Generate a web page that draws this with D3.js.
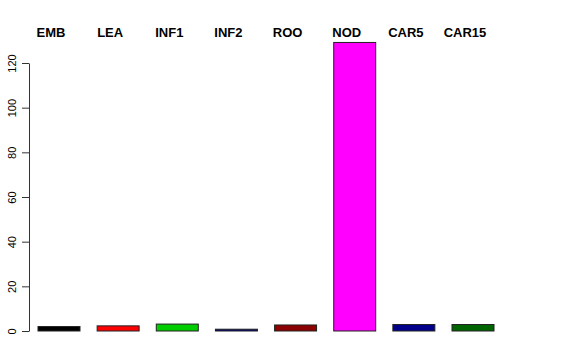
<!DOCTYPE html>
<html>
<head>
<meta charset="utf-8">
<script src="https://d3js.org/d3.v7.min.js"></script>
<style>
  body { margin: 0; background: #fff; }
  text { font-family: "Liberation Sans", Arial, sans-serif; }
</style>
</head>
<body>
<svg id="chart" width="576" height="360"></svg>
<script>
// data
var categories = ["EMB", "LEA", "INF1", "INF2", "ROO", "NOD", "CAR5", "CAR15"];
var values = [2.0, 2.3, 3.1, 0.8, 2.7, 129.2, 2.9, 2.9];
var colors = ["#000000", "#ff0000", "#00cd00", "#000080", "#8b0000", "#ff00ff", "#00008b", "#006400"];
var yTicks = [0, 20, 40, 60, 80, 100, 120];

var svg = d3.select("#chart");

// scales
var x = d3.scaleBand()
    .domain(categories)
    .range([38, 494])
    .paddingInner(0.29)
    .paddingOuter(0);

var y = d3.scaleLinear()
    .domain([0, 120])
    .range([331, 63]);

// bars
svg.append("g")
  .selectAll("rect")
  .data(values)
  .enter().append("rect")
    .attr("x", function(d, i) { return x(categories[i]); })
    .attr("y", function(d) { return y(d); })
    .attr("width", x.bandwidth())
    .attr("height", function(d) { return y(0) - y(d); })
    .attr("fill", function(d, i) { return colors[i]; })
    .attr("stroke", "#222")
    .attr("stroke-width", 1);

// y axis
var yAxis = svg.append("g")
    .attr("transform", "translate(29,0)")
    .call(d3.axisLeft(y).tickValues(yTicks).tickSize(7).tickSizeOuter(0));
yAxis.select(".domain").attr("stroke", "#333");
yAxis.selectAll(".tick line").attr("stroke", "#333");
yAxis.selectAll(".tick text")
    .attr("font-size", "11px")
    .attr("font-family", "Liberation Sans, Arial, sans-serif")
    .attr("fill", "#000")
    .attr("text-anchor", "middle")
    .attr("x", 0)
    .attr("dy", 0)
    .attr("transform", "translate(-17,0) rotate(-90)")
    .attr("y", 0)
    .attr("dominant-baseline", "central");

// top labels, a little left of each bar centre
svg.append("g")
  .selectAll("text")
  .data(categories)
  .enter().append("text")
    .attr("x", function(d) { return x(d) + x.bandwidth() / 2 - 8; })
    .attr("y", 37)
    .attr("text-anchor", "middle")
    .attr("font-size", "13px")
    .attr("font-weight", "bold")
    .text(function(d) { return d; });
</script>
</body>
</html>
